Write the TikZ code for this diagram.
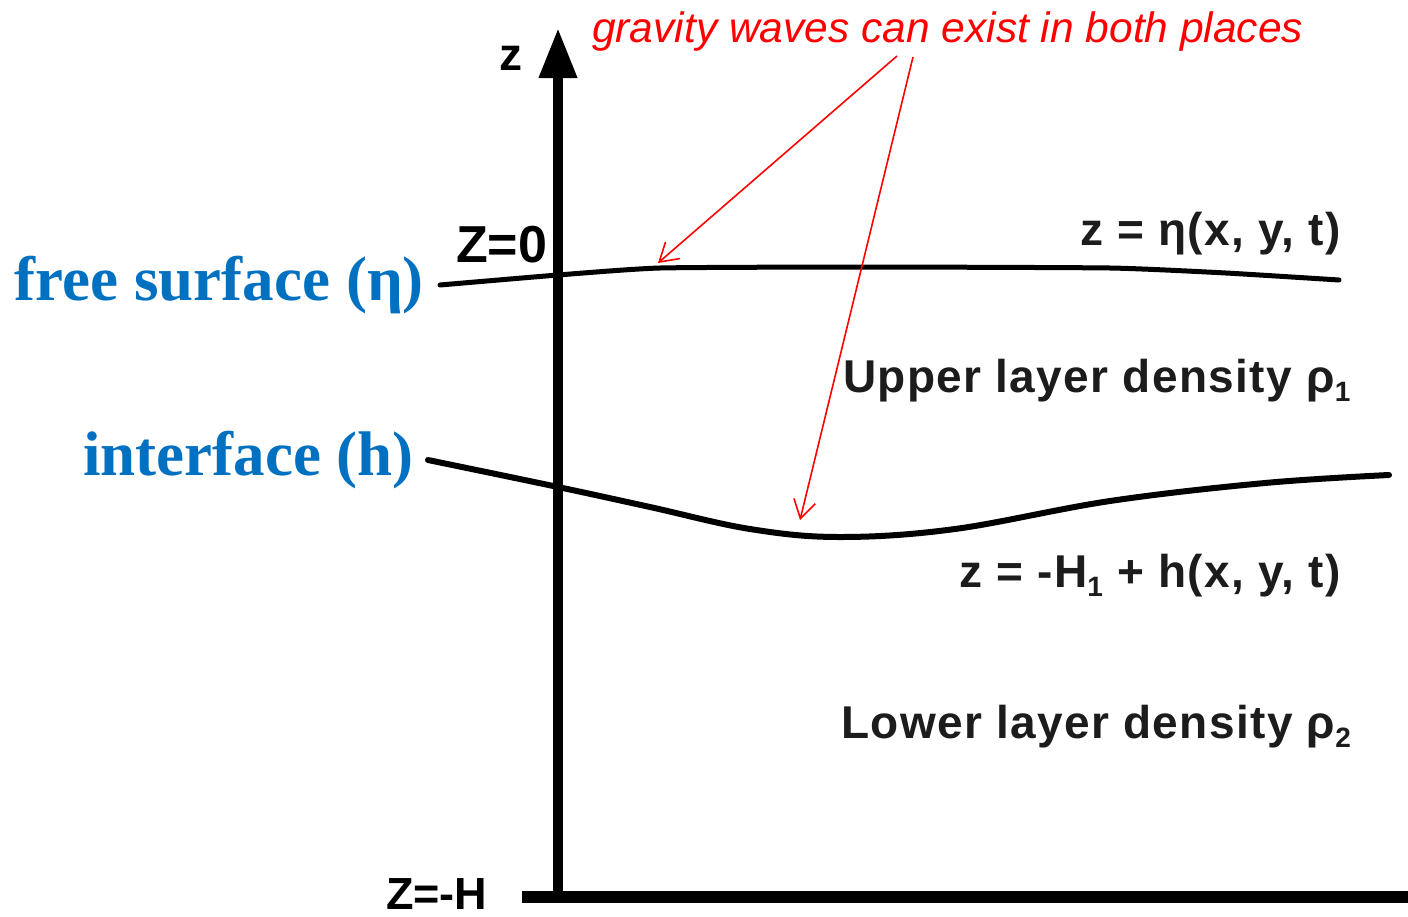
\documentclass[tikz,border=0pt]{standalone}
\usepackage{fontspec}
\setmainfont{Liberation Serif}
\newfontfamily\arialf{Liberation Sans}
\newfontfamily\scanf[LetterSpace=3]{Liberation Sans Bold}
\usetikzlibrary{arrows.meta}
\definecolor{labblue}{HTML}{0070C0}
\definecolor{scanink}{HTML}{1C1C1C}
\tikzset{
  axisline/.style={line width=10pt, black},
  layerline/.style={line width=5pt, black, line cap=round},
  redarrow/.style={draw=red, line width=1.6pt, -{Straight Barb[length=18pt,width=22pt,line width=1.6pt]}},
  bluelab/.style={inner sep=0pt, text=labblue, font=\fontsize{63}{63}\selectfont\bfseries},
  scantext/.style={inner sep=0pt, text=scanink, font=\fontsize{46}{46}\selectfont\scanf},
  zlab/.style={inner sep=0pt, text=black, font=\fontsize{52}{52}\selectfont\arialf\bfseries},
}
\newcommand{\scansub}[1]{{\fontsize{28}{28}\selectfont\raisebox{-9pt}{#1}}}
\begin{document}
\begin{tikzpicture}[x=1pt,y=-1pt]
\useasboundingbox (0,0) rectangle (1408,916);
% axes
\coordinate (axbot) at (558,897);
\coordinate (axtop) at (558,28);
\coordinate (b1) at (522,897);
\coordinate (b2) at (1408,897);
\draw[axisline, -{Triangle[length=50pt,width=36pt]}] (axbot) -- (axtop);
\draw[line width=12pt, black] (b1) -- (b2);
% free surface
\draw[layerline] plot[smooth, tension=0.3] coordinates {(440,285) (558,275) (660,268) (860,267) (1110,268) (1226,273) (1339,280)};
% interface
\draw[layerline, line width=6pt] plot[smooth, tension=0.6] coordinates {(428,460) (558,487) (650,507) (750,529) (840,537) (955,529) (1110,501) (1265,483) (1389,475)};
% labels
\node[bluelab, anchor=base east] (fs) at (424,300) {free surface (η)};
\node[bluelab, anchor=base east] (intf) at (414,475) {interface (h)};
\node[zlab, anchor=base west] (z0) at (456,262) {Z=0};
\node[zlab, anchor=base west, font=\fontsize{45}{45}\selectfont\arialf\bfseries] (zH) at (386,909) {Z=-H};
\node[inner sep=0pt, font=\fontsize{46}{46}\selectfont\arialf\bfseries] (zax) at (511,58) {z};
\node[scantext, anchor=base east] (eta) at (1341,245) {z = η(x, y, t)};
\node[scantext, anchor=base west] (up) at (843,392) {Upper layer density ρ\scansub{1}};
\node[scantext, anchor=base east] (hint) at (1341,587) {z = -H\scansub{1} + h(x, y, t)};
\node[scantext, anchor=base west] (low) at (841,738) {Lower layer density ρ\scansub{2}};
% red annotation
\node[inner sep=0pt, anchor=base west, text=red, font=\fontsize{42.5}{42.5}\selectfont\arialf\itshape] (grav) at (592,42) {gravity waves can exist in both places};
\coordinate (s1) at (897,56);
\coordinate (s2) at (913,57);
\coordinate (t1) at (658,263);
\coordinate (t2) at (800,520);
\draw[redarrow] (s1) -- (t1);
\draw[redarrow] (s2) -- (t2);
\end{tikzpicture}
\end{document}
